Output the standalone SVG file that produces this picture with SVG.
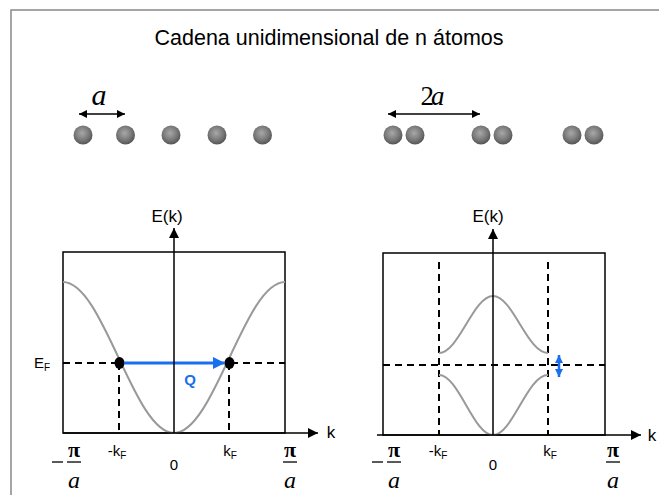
<svg xmlns="http://www.w3.org/2000/svg" width="659" height="495" viewBox="0 0 659 495">
<style>
.t{font-family:"Liberation Sans",Arial,sans-serif;fill:#000}
.s{font-family:"Liberation Serif","Times New Roman",serif;fill:#000}
.ax{stroke:#000;stroke-width:1.5;fill:none}
.box{stroke:#000;stroke-width:1.5;fill:none}
.dash{stroke:#000;stroke-width:2;stroke-dasharray:7,5;fill:none}
.band{stroke:#999;stroke-width:2;fill:none}
.dim{stroke:#000;stroke-width:1.5;fill:none}
</style>
<defs>
<radialGradient id="atom" cx="45%" cy="40%" r="60%">
<stop offset="0" stop-color="#a8a8a8"/>
<stop offset="0.6" stop-color="#7a7a7a"/>
<stop offset="1" stop-color="#555"/>
</radialGradient>
<marker id="ah" viewBox="0 0 10 10" refX="10" refY="5" markerWidth="8" markerHeight="8" markerUnits="userSpaceOnUse" orient="auto-start-reverse"><path d="M0,0L10,5L0,10Z" fill="#000"/></marker>
<marker id="axh" viewBox="0 0 10 10" refX="10" refY="5" markerWidth="12" markerHeight="10" markerUnits="userSpaceOnUse" orient="auto"><path d="M0,0L10,5L0,10Z" fill="#000"/></marker>
<marker id="bh" viewBox="0 0 10 10" refX="10" refY="5" markerWidth="12" markerHeight="12" markerUnits="userSpaceOnUse" orient="auto"><path d="M0,0L10,5L0,10Z" fill="#1a6ef0"/></marker>
<marker id="bh2" viewBox="0 0 10 10" refX="10" refY="5" markerWidth="8" markerHeight="8" markerUnits="userSpaceOnUse" orient="auto-start-reverse"><path d="M0,0L10,5L0,10Z" fill="#1a6ef0"/></marker>
</defs>
<rect width="659" height="495" fill="#fff"/>
<path d="M11,495V10H659" stroke="#888" stroke-width="1.5" fill="none"/>
<text class="t" x="329" y="45" font-size="21.5" text-anchor="middle">Cadena unidimensional de n átomos</text>

<g id="chain1">
<circle cx="83" cy="135" r="9.5" fill="url(#atom)"/>
<circle cx="125.5" cy="135" r="9.5" fill="url(#atom)"/>
<circle cx="171" cy="135" r="9.5" fill="url(#atom)"/>
<circle cx="217" cy="135" r="9.5" fill="url(#atom)"/>
<circle cx="262.5" cy="135" r="9.5" fill="url(#atom)"/>
<line class="dim" x1="79" y1="114" x2="125" y2="114" marker-start="url(#ah)" marker-end="url(#ah)"/>
<text class="s" x="99" y="105" font-size="30" font-style="italic" text-anchor="middle">a</text>
</g>

<g id="chain2">
<circle cx="393" cy="135" r="9.5" fill="url(#atom)"/>
<circle cx="415" cy="135" r="9.5" fill="url(#atom)"/>
<circle cx="481" cy="135" r="9.5" fill="url(#atom)"/>
<circle cx="503" cy="135" r="9.5" fill="url(#atom)"/>
<circle cx="572" cy="135" r="9.5" fill="url(#atom)"/>
<circle cx="594" cy="135" r="9.5" fill="url(#atom)"/>
<line class="dim" x1="388" y1="114" x2="480" y2="114" marker-start="url(#ah)" marker-end="url(#ah)"/>
<text class="s" x="431" y="105" font-size="27" text-anchor="middle" letter-spacing="-3">2<tspan font-style="italic">a</tspan></text>
</g>

<g id="panel-left">
<rect class="box" x="63" y="252" width="222" height="181"/>
<path class="band" d="M63,282C103.4,282 133.6,433 174,433C214.4,433 244.6,282 285,282"/>
<line class="dash" x1="63" y1="363" x2="285" y2="363"/>
<line class="dash" x1="119" y1="363" x2="119" y2="433"/>
<line class="dash" x1="229" y1="363" x2="229" y2="433"/>
<ellipse cx="119.5" cy="363" rx="5" ry="6" fill="#000"/>
<ellipse cx="229.5" cy="363" rx="5" ry="6" fill="#000"/>
<line x1="124" y1="363" x2="225" y2="363" stroke="#1a6ef0" stroke-width="3" marker-end="url(#bh)"/>
<text class="t" x="190" y="385" font-size="15" font-weight="bold" text-anchor="middle" style="fill:#1a6ef0">Q</text>
<text class="t" x="34" y="368" font-size="15">E<tspan font-size="10" dy="3">F</tspan></text>
<text class="t" x="117" y="456" font-size="15" text-anchor="middle">-k<tspan font-size="10" dy="3">F</tspan></text>
<text class="t" x="230" y="456" font-size="15" text-anchor="middle">k<tspan font-size="10" dy="3">F</tspan></text>
<text class="t" x="174" y="470" font-size="15" text-anchor="middle">0</text>
<line x1="52" y1="462" x2="63" y2="462" stroke="#000" stroke-width="1.3"/>
<line x1="67" y1="462" x2="81" y2="462" stroke="#000" stroke-width="1.3"/>
<text class="s" x="74" y="457" font-size="22" font-weight="bold" text-anchor="middle">π</text>
<text class="s" x="74" y="488" font-size="24" font-style="italic" text-anchor="middle">a</text>
<line x1="283" y1="462" x2="297" y2="462" stroke="#000" stroke-width="1.3"/>
<text class="s" x="290" y="457" font-size="22" font-weight="bold" text-anchor="middle">π</text>
<text class="s" x="290" y="488" font-size="24" font-style="italic" text-anchor="middle">a</text>
</g>

<g id="panel-right">
<rect class="box" x="383" y="253" width="222" height="182"/>
<line class="dash" x1="439" y1="262" x2="439" y2="435"/>
<line class="dash" x1="548" y1="262" x2="548" y2="435"/>
<line class="dash" x1="383" y1="365" x2="605" y2="365"/>
<path class="band" d="M439,353C458.7,353 473.3,296 493,296C512.7,296 527.3,353 548,353"/>
<path class="band" d="M439,375C458.7,375 473.3,435 493,435C512.7,435 527.3,375 548,375"/>
<line x1="559" y1="355" x2="559" y2="377" stroke="#1a6ef0" stroke-width="2.5" marker-start="url(#bh2)" marker-end="url(#bh2)"/>
<text class="t" x="438" y="456" font-size="15" text-anchor="middle">-k<tspan font-size="10" dy="3">F</tspan></text>
<text class="t" x="550" y="456" font-size="15" text-anchor="middle">k<tspan font-size="10" dy="3">F</tspan></text>
<text class="t" x="493" y="470" font-size="15" text-anchor="middle">0</text>
<line x1="372" y1="462" x2="383" y2="462" stroke="#000" stroke-width="1.3"/>
<line x1="387" y1="462" x2="401" y2="462" stroke="#000" stroke-width="1.3"/>
<text class="s" x="394" y="457" font-size="22" font-weight="bold" text-anchor="middle">π</text>
<text class="s" x="394" y="488" font-size="24" font-style="italic" text-anchor="middle">a</text>
<line x1="606" y1="462" x2="620" y2="462" stroke="#000" stroke-width="1.3"/>
<text class="s" x="613" y="457" font-size="22" font-weight="bold" text-anchor="middle">π</text>
<text class="s" x="613" y="488" font-size="24" font-style="italic" text-anchor="middle">a</text>
</g>

<g id="axes">
<line class="ax" x1="174" y1="433" x2="174" y2="228" marker-end="url(#axh)"/>
<line class="ax" x1="63" y1="433" x2="318" y2="433" marker-end="url(#axh)"/>
<line class="ax" x1="493" y1="435" x2="493" y2="229" marker-end="url(#axh)"/>
<line class="ax" x1="377" y1="435" x2="641" y2="435" marker-end="url(#axh)"/>
<text class="t" x="167" y="222" font-size="17" text-anchor="middle">E(k)</text>
<text class="t" x="488" y="222" font-size="17" text-anchor="middle">E(k)</text>
<text class="t" x="331" y="438" font-size="17" text-anchor="middle">k</text>
<text class="t" x="652" y="441" font-size="17" text-anchor="middle">k</text>
</g>
</svg>
